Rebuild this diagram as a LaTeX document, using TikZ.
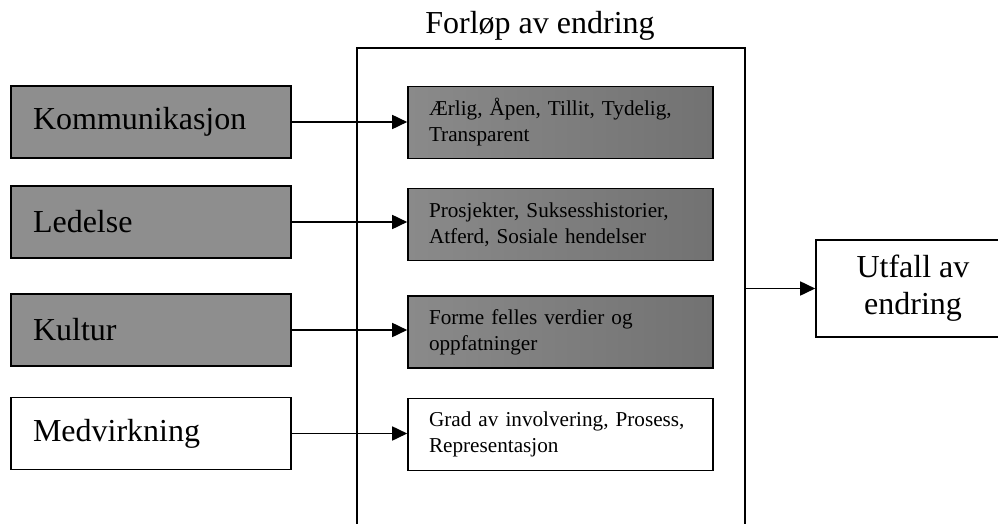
\documentclass[tikz,border=0pt]{standalone}
\usepackage{fontspec}
\setmainfont{Liberation Serif}
\usetikzlibrary{arrows.meta,positioning,calc}
\definecolor{FactGray}{HTML}{8E8E8E}
\definecolor{StepGray}{HTML}{8A8A8A}
\definecolor{StepDark}{HTML}{727272}

\begin{document}
\begin{tikzpicture}[x=1pt,y=-1pt,
    factor/.style={
      draw,
      line width=1.6pt,
      minimum height=72pt,
      text width=236pt,
      inner xsep=22pt,
      inner ysep=0pt,
      align=left,
      font=\fontsize{32}{37}\selectfont
    },
    stepbox/.style={
      draw,
      line width=1.6pt,
      minimum height=72pt,
      text width=263pt,
      inner xsep=21pt,
      inner ysep=0pt,
      align=left,
      font=\fontsize{21.2}{26}\selectfont
    },
    grayfill/.style={fill=FactGray},
    grayshade/.style={left color=StepGray,right color=StepDark},
    arrow/.style={
      -{Triangle[length=15pt,width=14pt]},
      line width=1.7pt
    }]

    \useasboundingbox (0,0) rectangle (998,524);
    \clip (0,0) rectangle (998,524);

    % Container for the change process (open at the bottom)
    \node[draw,line width=2pt,minimum width=388pt,minimum height=500pt,inner sep=0pt] (forlop) at (551,298) {};
    \node[anchor=base,font=\fontsize{32}{37}\selectfont] (title) at (540,34) {Forløp av endring};

    % Left column: factors
    \node[factor,grayfill] (komm) at (151,122) {Kommunikasjon};
    \node[factor,grayfill] (led)  at (151,222) {Ledelse};
    \node[factor,grayfill] (kult) at (151,330) {Kultur};
    \node[factor,fill=white] (medv) at (151,433.5) {Medvirkning};

    % Inner column: what each factor means
    \node[stepbox,grayshade] (aerlig) at (560.5,122.5) {Ærlig, Åpen, Tillit, Tydelig,\\Transparent};
    \node[stepbox,grayshade] (prosj)  at (560.5,224.5) {Prosjekter, Suksesshistorier,\\Atferd, Sosiale hendelser};
    \node[stepbox,grayshade] (forme)  at (560.5,332)   {Forme felles verdier og\\oppfatninger};
    \node[stepbox,fill=white] (grad)  at (560.5,434.5) {Grad av involvering, Prosess,\\Representasjon};

    % Outcome
    \node[draw,line width=1.6pt,minimum width=194pt,minimum height=97pt,align=center,
          font=\fontsize{32}{37}\selectfont] (utfall) at (913,288.5) {Utfall av\\endring};

    % Arrows
    \draw[arrow] (komm.east) -- (komm.east -| aerlig.west);
    \draw[arrow] (led.east)  -- (led.east -| prosj.west);
    \draw[arrow] (kult.east) -- (kult.east -| forme.west);
    \draw[arrow] (medv.east) -- (medv.east -| grad.west);
    \draw[arrow] (utfall.west -| forlop.east) -- (utfall.west);
  \end{tikzpicture}
\end{document}
